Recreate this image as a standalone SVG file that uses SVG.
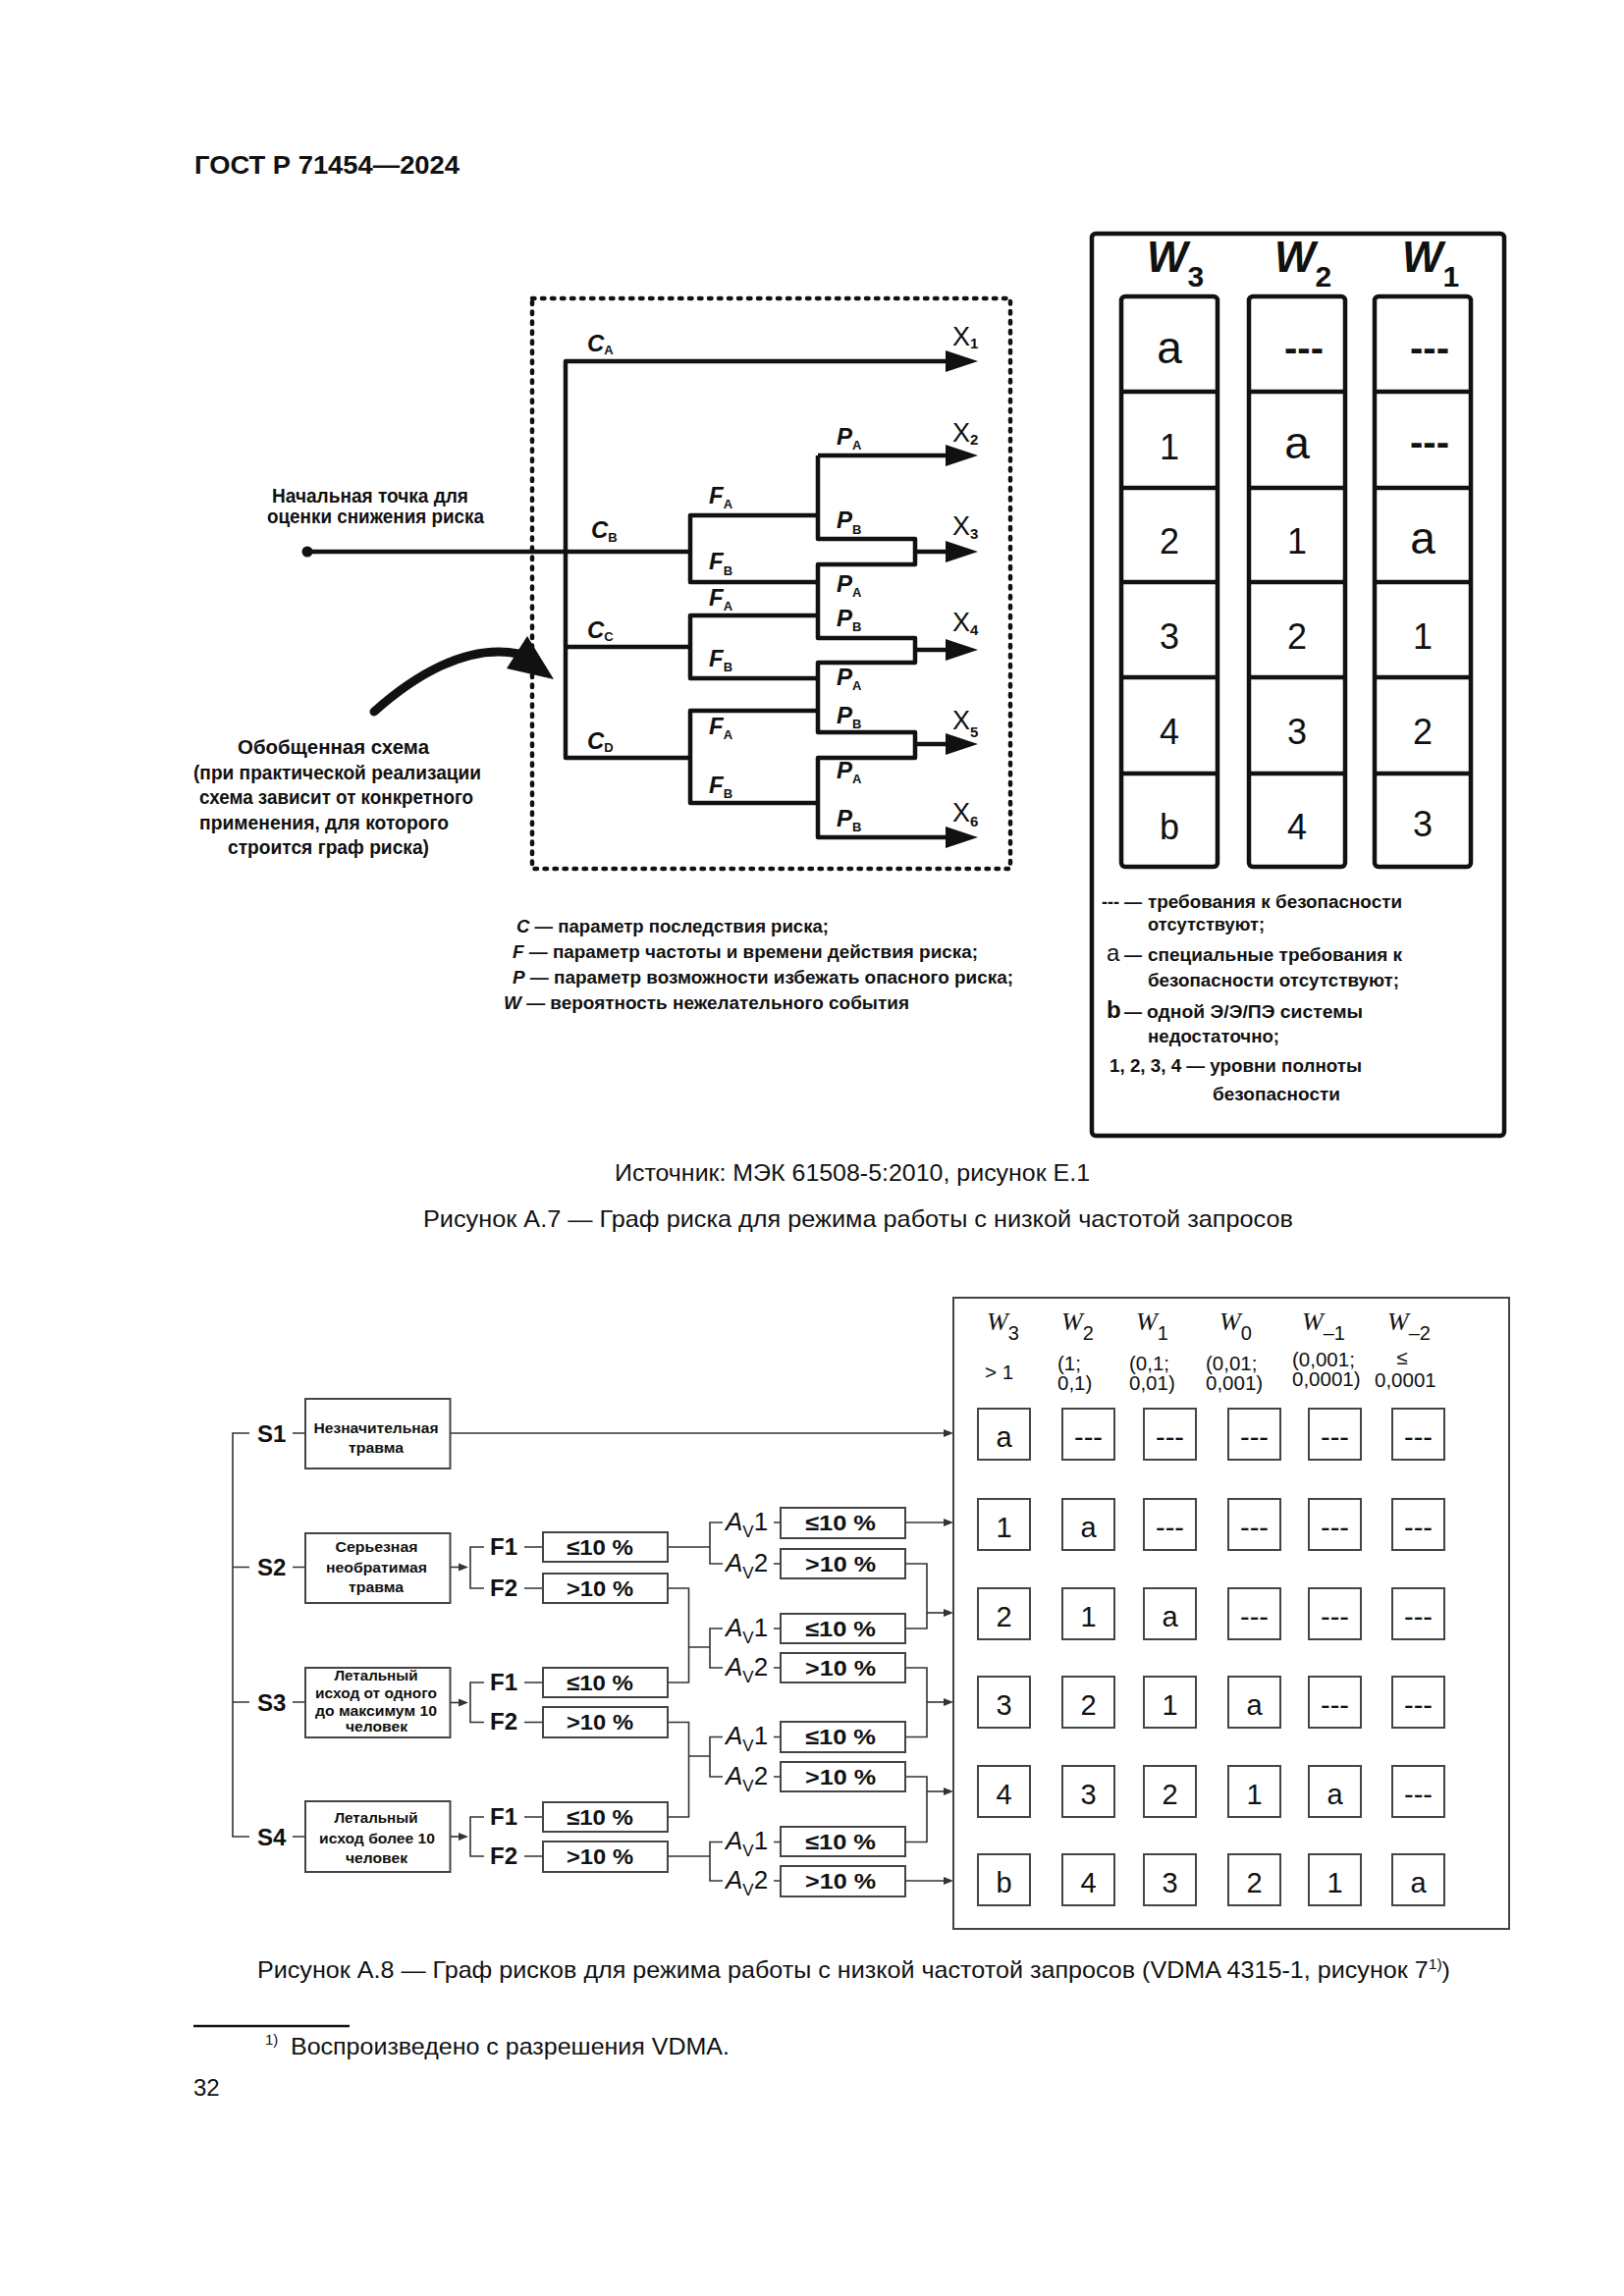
<svg xmlns="http://www.w3.org/2000/svg" width="1654" height="2339" viewBox="0 0 1654 2339">
<defs>
<style>
text { font-family: "Liberation Sans", Arial, sans-serif; fill:#111; }
.b { font-weight:bold; }
.lbl { font-weight:bold; font-style:italic; font-size:24px; }
.sub { font-style:normal; font-weight:bold; font-size:13px; }
.xl { font-size:27px; }
.xs { font-size:15px; font-weight:bold; }
.gr { fill:none; stroke:#111; stroke-width:4.5; stroke-linejoin:round; }
.dash { fill:none; stroke:#111; stroke-width:4.5; stroke-dasharray:2.5 7.5; stroke-linecap:round; }
.box { fill:none; stroke:#111; stroke-width:4.5; }
.cell { font-size:36px; text-anchor:middle; }
.ca { font-size:46px; text-anchor:middle; }
.cd { font-size:40px; font-weight:bold; text-anchor:middle; }
.wl { font-weight:bold; font-style:italic; font-size:44px; }
.ws { font-weight:bold; font-size:30px; font-style:normal; }
.leg { font-weight:bold; font-size:18px; }
.ln { fill:none; stroke:#333; stroke-width:1.6; }
.bx { fill:#fff; stroke:#444; stroke-width:2; }
.bt { font-weight:bold; font-size:15px; }
.pt { font-weight:bold; font-size:22px; }
.sl { font-weight:bold; font-size:24px; }
.c2 { font-size:29px; text-anchor:middle; }
.hw { font-family:"Liberation Serif", serif; font-style:italic; font-size:26px; }
.hs { font-size:20px; font-style:normal; font-family:"Liberation Sans", Arial, sans-serif; }
.hv { font-size:20.5px; }
.cap { font-size:24px; }
.av { font-size:26px; }
</style>
<marker id="ah" markerUnits="userSpaceOnUse" markerWidth="34" markerHeight="24" viewBox="0 0 34 24" refX="7" refY="12" orient="auto"><path d="M0 1 L33 12 L0 23 Z" fill="#111"/></marker>
<marker id="sa" markerUnits="userSpaceOnUse" markerWidth="10" markerHeight="9" viewBox="0 0 10 9" refX="2" refY="4.5" orient="auto"><path d="M0 0.5 L10 4.5 L0 8.5 Z" fill="#333"/></marker>
</defs>
<rect width="1654" height="2339" fill="#fff"/>

<text id="header" class="b" x="198" y="177" font-size="26" textLength="270" lengthAdjust="spacingAndGlyphs">ГОСТ Р 71454—2024</text>

<!-- Figure A.7 -->
<g id="generic-frame">
<rect class="dash" x="542" y="304" width="487" height="581"/>
</g>

<g id="connectors-a7">
<path class="gr" d="M703 772 H576 V368 H970" marker-end="url(#ah)"/>
<path class="gr" d="M313 562 H703"/>
<path class="gr" d="M576 659 H703"/>
<path class="gr" d="M833 525 H703 V593 H833"/>
<path class="gr" d="M833 627 H703 V691 H833"/>
<path class="gr" d="M833 724 H703 V818 H833"/>
<path class="gr" d="M833 464 H970" marker-end="url(#ah)"/>
<path class="gr" d="M833 464 V549 H932 V575 H833 V650 H932 V675 H833 V746 H932 V772 H833 V853 H970" marker-end="url(#ah)"/>
<path class="gr" d="M932 562 H970" marker-end="url(#ah)"/>
<path class="gr" d="M932 662 H970" marker-end="url(#ah)"/>
<path class="gr" d="M932 758 H970" marker-end="url(#ah)"/>
<circle cx="313" cy="562" r="5.5" fill="#111"/>
<path d="M381 725 C 420 690, 475 655, 528 666" fill="none" stroke="#111" stroke-width="9" stroke-linecap="round"/>
<polygon points="537,648 564,692 516,681" fill="#111"/>
</g>

<g id="c-labels">
<text class="lbl" x="598" y="358">C<tspan class="sub" dy="3">A</tspan></text>
<text class="lbl" x="602" y="548">C<tspan class="sub" dy="4">B</tspan></text>
<text class="lbl" x="598" y="650">C<tspan class="sub" dy="3">C</tspan></text>
<text class="lbl" x="598" y="763">C<tspan class="sub" dy="3">D</tspan></text>
</g>
<g id="f-labels">
<text class="lbl" x="722" y="513">F<tspan class="sub" dy="5">A</tspan></text>
<text class="lbl" x="722" y="580">F<tspan class="sub" dy="6">B</tspan></text>
<text class="lbl" x="722" y="617">F<tspan class="sub" dy="5">A</tspan></text>
<text class="lbl" x="722" y="679">F<tspan class="sub" dy="5">B</tspan></text>
<text class="lbl" x="722" y="748">F<tspan class="sub" dy="5">A</tspan></text>
<text class="lbl" x="722" y="808">F<tspan class="sub" dy="5">B</tspan></text>
</g>
<g id="p-labels">
<text class="lbl" x="852" y="453">P<tspan class="sub" dy="5">A</tspan></text>
<text class="lbl" x="852" y="538">P<tspan class="sub" dy="6">B</tspan></text>
<text class="lbl" x="852" y="603">P<tspan class="sub" dy="5">A</tspan></text>
<text class="lbl" x="852" y="638">P<tspan class="sub" dy="5">B</tspan></text>
<text class="lbl" x="852" y="698">P<tspan class="sub" dy="5">A</tspan></text>
<text class="lbl" x="852" y="737">P<tspan class="sub" dy="5">B</tspan></text>
<text class="lbl" x="852" y="793">P<tspan class="sub" dy="5">A</tspan></text>
<text class="lbl" x="852" y="842">P<tspan class="sub" dy="5">B</tspan></text>
</g>
<g id="x-labels">
<text class="xl" x="970" y="352">X<tspan class="xs" dy="3">1</tspan></text>
<text class="xl" x="970" y="450">X<tspan class="xs" dy="3">2</tspan></text>
<text class="xl" x="970" y="545">X<tspan class="xs" dy="4">3</tspan></text>
<text class="xl" x="970" y="643">X<tspan class="xs" dy="4">4</tspan></text>
<text class="xl" x="970" y="743">X<tspan class="xs" dy="8">5</tspan></text>
<text class="xl" x="970" y="837">X<tspan class="xs" dy="5">6</tspan></text>
</g>

<g id="start-note">
<text class="b" x="277" y="512" font-size="20" textLength="200" lengthAdjust="spacingAndGlyphs">Начальная точка для</text>
<text class="b" x="272" y="533" font-size="20" textLength="221" lengthAdjust="spacingAndGlyphs">оценки снижения риска</text>
</g>
<g id="generic-note">
<text class="b" x="242" y="768" font-size="20" textLength="195" lengthAdjust="spacingAndGlyphs">Обобщенная схема</text>
<text class="b" x="197" y="794" font-size="20" textLength="293" lengthAdjust="spacingAndGlyphs">(при практической реализации</text>
<text class="b" x="203" y="819" font-size="20" textLength="279" lengthAdjust="spacingAndGlyphs">схема зависит от конкретного</text>
<text class="b" x="203" y="845" font-size="20" textLength="254" lengthAdjust="spacingAndGlyphs">применения,  для которого</text>
<text class="b" x="232" y="870" font-size="20" textLength="205" lengthAdjust="spacingAndGlyphs">строится граф риска)</text>
</g>
<g id="param-legend">
<text class="b" x="526" y="950" font-size="18" textLength="318" lengthAdjust="spacingAndGlyphs"><tspan font-style="italic">C</tspan> — параметр последствия риска;</text>
<text class="b" x="522" y="976" font-size="18" textLength="474" lengthAdjust="spacingAndGlyphs"><tspan font-style="italic">F</tspan> — параметр частоты и времени действия риска;</text>
<text class="b" x="522" y="1002" font-size="18" textLength="510" lengthAdjust="spacingAndGlyphs"><tspan font-style="italic">P</tspan> — параметр возможности избежать опасного риска;</text>
<text class="b" x="513" y="1028" font-size="18" textLength="413" lengthAdjust="spacingAndGlyphs"><tspan font-style="italic">W</tspan> — вероятность нежелательного события</text>
</g>

<g id="w-table">
<rect class="box" x="1112" y="238" width="420" height="919" rx="4"/>
<text class="wl" x="1168" y="277">W<tspan class="ws" dy="15">3</tspan></text>
<text class="wl" x="1298" y="277">W<tspan class="ws" dy="15">2</tspan></text>
<text class="wl" x="1428" y="277">W<tspan class="ws" dy="15">1</tspan></text>
<g id="col-w3">
<rect class="box" x="1142" y="302" width="98" height="581" rx="4"/>
<path class="gr" d="M1142 399 H1240 M1142 497 H1240 M1142 593 H1240 M1142 690 H1240 M1142 788 H1240"/>
<text class="ca" x="1191" y="370">a</text>
<text class="cell" x="1191" y="468">1</text>
<text class="cell" x="1191" y="564">2</text>
<text class="cell" x="1191" y="661">3</text>
<text class="cell" x="1191" y="758">4</text>
<text class="cell" x="1191" y="855" font-size="40">b</text>
</g>
<g id="col-w2">
<rect class="box" x="1272" y="302" width="98" height="581" rx="4"/>
<path class="gr" d="M1272 399 H1370 M1272 497 H1370 M1272 593 H1370 M1272 690 H1370 M1272 788 H1370"/>
<text class="cd" x="1328" y="368">---</text>
<text class="ca" x="1321" y="467">a</text>
<text class="cell" x="1321" y="564">1</text>
<text class="cell" x="1321" y="661">2</text>
<text class="cell" x="1321" y="758">3</text>
<text class="cell" x="1321" y="855">4</text>
</g>
<g id="col-w1">
<rect class="box" x="1400" y="302" width="98" height="581" rx="4"/>
<path class="gr" d="M1400 399 H1498 M1400 497 H1498 M1400 593 H1498 M1400 690 H1498 M1400 788 H1498"/>
<text class="cd" x="1456" y="368">---</text>
<text class="cd" x="1456" y="464">---</text>
<text class="ca" x="1449" y="564">a</text>
<text class="cell" x="1449" y="661">1</text>
<text class="cell" x="1449" y="758">2</text>
<text class="cell" x="1449" y="852">3</text>
</g>
<g id="w-legend">
<text class="b" x="1122" y="925" font-size="18">---</text>
<text class="b" x="1145" y="925" font-size="18">—</text>
<text class="leg" x="1169" y="925" textLength="259" lengthAdjust="spacingAndGlyphs">требования к безопасности</text>
<text class="leg" x="1169" y="948" textLength="119" lengthAdjust="spacingAndGlyphs">отсутствуют;</text>
<text x="1127" y="979" font-size="24">a</text>
<text class="b" x="1145" y="979" font-size="18">—</text>
<text class="leg" x="1169" y="979" textLength="259" lengthAdjust="spacingAndGlyphs">специальные требования к</text>
<text class="leg" x="1169" y="1005" textLength="256" lengthAdjust="spacingAndGlyphs">безопасности отсутствуют;</text>
<text class="b" x="1127" y="1037" font-size="24">b</text>
<text class="b" x="1145" y="1037" font-size="18">—</text>
<text class="leg" x="1168" y="1037" textLength="220" lengthAdjust="spacingAndGlyphs">одной Э/Э/ПЭ системы</text>
<text class="leg" x="1169" y="1062" textLength="134" lengthAdjust="spacingAndGlyphs">недостаточно;</text>
<text class="leg" x="1130" y="1092" textLength="257" lengthAdjust="spacingAndGlyphs">1, 2, 3, 4 — уровни полноты</text>
<text class="leg" x="1235" y="1121" textLength="130" lengthAdjust="spacingAndGlyphs">безопасности</text>
</g>
</g>

<g id="captions-a7">
<text class="cap" x="626" y="1203" textLength="484" lengthAdjust="spacingAndGlyphs">Источник: МЭК 61508-5:2010, рисунок Е.1</text>
<text class="cap" x="431" y="1250" textLength="886" lengthAdjust="spacingAndGlyphs">Рисунок А.7 — Граф риска для режима работы с низкой частотой запросов</text>
</g>

<!-- Figure A.8 -->
<g id="connectors-a8">
<path class="ln" d="M254 1460 H237 V1871 H254 M237 1596.5 H254 M237 1734 H254"/>
<path class="ln" d="M298 1460 H311 M298 1596.5 H311 M298 1734 H311 M298 1871 H311"/>
<path class="ln" d="M458.5 1460 H963" marker-end="url(#sa)"/>
<path class="ln" d="M458.5 1596.5 H469" marker-end="url(#sa)"/>
<path class="ln" d="M458.5 1734.5 H469" marker-end="url(#sa)"/>
<path class="ln" d="M458.5 1871 H469" marker-end="url(#sa)"/>
<path class="ln" d="M493 1576 H479 V1618 H493 M493 1714 H479 V1754.5 H493 M493 1851 H479 V1891 H493"/>
<path class="ln" d="M534 1576 H553 M534 1618 H553 M534 1714 H553 M534 1754.5 H553 M534 1851 H553 M534 1891 H553"/>
<path class="ln" d="M680 1576 H723"/>
<path class="ln" d="M680 1618 H701.5 V1714 H680 M701.5 1678 H723"/>
<path class="ln" d="M680 1754.5 H701.5 V1851 H680 M701.5 1789 H723"/>
<path class="ln" d="M680 1891 H723"/>
<path class="ln" d="M736 1551 H723 V1593 H736 M736 1659 H723 V1699 H736 M736 1769.5 H723 V1810 H736 M736 1876.5 H723 V1916 H736"/>
<path class="ln" d="M788 1551 H795 M788 1593 H795 M788 1659 H795 M788 1699 H795 M788 1769.5 H795 M788 1810 H795 M788 1876.5 H795 M788 1916 H795"/>
<path class="ln" d="M922 1551 H963" marker-end="url(#sa)"/>
<path class="ln" d="M922 1593 H944 V1659 H922"/>
<path class="ln" d="M944 1643 H963" marker-end="url(#sa)"/>
<path class="ln" d="M922 1699 H944 V1769.5 H922"/>
<path class="ln" d="M944 1734 H963" marker-end="url(#sa)"/>
<path class="ln" d="M922 1810 H944 V1876.5 H922"/>
<path class="ln" d="M944 1825 H963" marker-end="url(#sa)"/>
<path class="ln" d="M922 1916 H963" marker-end="url(#sa)"/>
</g>

<g id="s-labels">
<text class="sl" x="262" y="1469">S1</text>
<text class="sl" x="262" y="1605">S2</text>
<text class="sl" x="262" y="1743">S3</text>
<text class="sl" x="262" y="1880">S4</text>
</g>
<g id="s1-box">
<rect class="bx" x="311" y="1425" width="147.5" height="71"/>
<text class="bt" x="319.5" y="1460" textLength="127" lengthAdjust="spacingAndGlyphs">Незначительная</text>
<text class="bt" x="355" y="1480" textLength="56" lengthAdjust="spacingAndGlyphs">травма</text>
</g>
<g id="s2-box">
<rect class="bx" x="311" y="1562" width="147.5" height="71"/>
<text class="bt" x="341.5" y="1581" textLength="84" lengthAdjust="spacingAndGlyphs">Серьезная</text>
<text class="bt" x="332" y="1602" textLength="103" lengthAdjust="spacingAndGlyphs">необратимая</text>
<text class="bt" x="355" y="1622" textLength="56" lengthAdjust="spacingAndGlyphs">травма</text>
</g>
<g id="s3-box">
<rect class="bx" x="311" y="1699" width="147.5" height="71"/>
<text class="bt" x="340.5" y="1712" textLength="85" lengthAdjust="spacingAndGlyphs">Летальный</text>
<text class="bt" x="321" y="1730" textLength="124" lengthAdjust="spacingAndGlyphs">исход от одного</text>
<text class="bt" x="321" y="1748" textLength="124" lengthAdjust="spacingAndGlyphs">до максимум 10</text>
<text class="bt" x="352" y="1764" textLength="63" lengthAdjust="spacingAndGlyphs">человек</text>
</g>
<g id="s4-box">
<rect class="bx" x="311" y="1835" width="147.5" height="72"/>
<text class="bt" x="340.5" y="1857" textLength="85" lengthAdjust="spacingAndGlyphs">Летальный</text>
<text class="bt" x="325" y="1878" textLength="118" lengthAdjust="spacingAndGlyphs">исход более 10</text>
<text class="bt" x="352" y="1898" textLength="63" lengthAdjust="spacingAndGlyphs">человек</text>
</g>

<g id="f-nodes">
<text class="sl" x="499" y="1584" font-size="23">F1</text>
<text class="sl" x="499" y="1626" font-size="23">F2</text>
<text class="sl" x="499" y="1722" font-size="23">F1</text>
<text class="sl" x="499" y="1762" font-size="23">F2</text>
<text class="sl" x="499" y="1859" font-size="23">F1</text>
<text class="sl" x="499" y="1899" font-size="23">F2</text>
<rect class="bx" x="553" y="1561" width="127" height="30"/>
<text class="pt" x="577" y="1584" textLength="68" lengthAdjust="spacingAndGlyphs">≤10 %</text>
<rect class="bx" x="553" y="1603" width="127" height="30"/>
<text class="pt" x="577" y="1626" textLength="68" lengthAdjust="spacingAndGlyphs">&gt;10 %</text>
<rect class="bx" x="553" y="1699" width="127" height="30"/>
<text class="pt" x="577" y="1722" textLength="68" lengthAdjust="spacingAndGlyphs">≤10 %</text>
<rect class="bx" x="553" y="1739" width="127" height="31"/>
<text class="pt" x="577" y="1762" textLength="68" lengthAdjust="spacingAndGlyphs">&gt;10 %</text>
<rect class="bx" x="553" y="1836" width="127" height="30"/>
<text class="pt" x="577" y="1859" textLength="68" lengthAdjust="spacingAndGlyphs">≤10 %</text>
<rect class="bx" x="553" y="1876" width="127" height="31"/>
<text class="pt" x="577" y="1899" textLength="68" lengthAdjust="spacingAndGlyphs">&gt;10 %</text>
</g>

<g id="av-nodes">
<text class="av" x="739" y="1559"><tspan font-style="italic">A</tspan><tspan font-size="17" dy="7">V</tspan><tspan dy="-7">1</tspan></text>
<text class="av" x="739" y="1601"><tspan font-style="italic">A</tspan><tspan font-size="17" dy="7">V</tspan><tspan dy="-7">2</tspan></text>
<text class="av" x="739" y="1667"><tspan font-style="italic">A</tspan><tspan font-size="17" dy="7">V</tspan><tspan dy="-7">1</tspan></text>
<text class="av" x="739" y="1707"><tspan font-style="italic">A</tspan><tspan font-size="17" dy="7">V</tspan><tspan dy="-7">2</tspan></text>
<text class="av" x="739" y="1777"><tspan font-style="italic">A</tspan><tspan font-size="17" dy="7">V</tspan><tspan dy="-7">1</tspan></text>
<text class="av" x="739" y="1818"><tspan font-style="italic">A</tspan><tspan font-size="17" dy="7">V</tspan><tspan dy="-7">2</tspan></text>
<text class="av" x="739" y="1884"><tspan font-style="italic">A</tspan><tspan font-size="17" dy="7">V</tspan><tspan dy="-7">1</tspan></text>
<text class="av" x="739" y="1924"><tspan font-style="italic">A</tspan><tspan font-size="17" dy="7">V</tspan><tspan dy="-7">2</tspan></text>
<rect class="bx" x="795" y="1536" width="127" height="31"/>
<text class="pt" x="820" y="1559" textLength="72" lengthAdjust="spacingAndGlyphs">≤10 %</text>
<rect class="bx" x="795" y="1578" width="127" height="30"/>
<text class="pt" x="820" y="1601" textLength="72" lengthAdjust="spacingAndGlyphs">&gt;10 %</text>
<rect class="bx" x="795" y="1644" width="127" height="30"/>
<text class="pt" x="820" y="1667" textLength="72" lengthAdjust="spacingAndGlyphs">≤10 %</text>
<rect class="bx" x="795" y="1684" width="127" height="30"/>
<text class="pt" x="820" y="1707" textLength="72" lengthAdjust="spacingAndGlyphs">&gt;10 %</text>
<rect class="bx" x="795" y="1754" width="127" height="31"/>
<text class="pt" x="820" y="1777" textLength="72" lengthAdjust="spacingAndGlyphs">≤10 %</text>
<rect class="bx" x="795" y="1795" width="127" height="30"/>
<text class="pt" x="820" y="1818" textLength="72" lengthAdjust="spacingAndGlyphs">&gt;10 %</text>
<rect class="bx" x="795" y="1861" width="127" height="30"/>
<text class="pt" x="820" y="1884" textLength="72" lengthAdjust="spacingAndGlyphs">≤10 %</text>
<rect class="bx" x="795" y="1901" width="127" height="31"/>
<text class="pt" x="820" y="1924" textLength="72" lengthAdjust="spacingAndGlyphs">&gt;10 %</text>
</g>

<g id="sil-table">
<rect x="971" y="1322" width="566" height="643" fill="none" stroke="#444" stroke-width="2"/>
<text class="hw" x="1005" y="1355">W<tspan class="hs" dy="10">3</tspan></text>
<text class="hw" x="1081" y="1355">W<tspan class="hs" dy="10">2</tspan></text>
<text class="hw" x="1157" y="1355">W<tspan class="hs" dy="10">1</tspan></text>
<text class="hw" x="1242" y="1355">W<tspan class="hs" dy="10">0</tspan></text>
<text class="hw" x="1326" y="1355">W<tspan class="hs" dy="10">–1</tspan></text>
<text class="hw" x="1413" y="1355">W<tspan class="hs" dy="10">–2</tspan></text>
<text class="hv" x="1003" y="1405">&gt; 1</text>
<text class="hv" x="1077" y="1396">(1;</text>
<text class="hv" x="1077" y="1416">0,1)</text>
<text class="hv" x="1150" y="1396">(0,1;</text>
<text class="hv" x="1150" y="1416">0,01)</text>
<text class="hv" x="1228" y="1396">(0,01;</text>
<text class="hv" x="1228" y="1416">0,001)</text>
<text class="hv" x="1316" y="1392">(0,001;</text>
<text class="hv" x="1316" y="1412">0,0001)</text>
<text class="hv" x="1428" y="1390" text-anchor="middle">≤</text>
<text class="hv" x="1400" y="1413">0,0001</text>
<g fill="none" stroke="#444" stroke-width="2">
<rect x="996" y="1435" width="53" height="52"/><rect x="1082" y="1435" width="53" height="52"/><rect x="1165" y="1435" width="53" height="52"/><rect x="1251" y="1435" width="53" height="52"/><rect x="1333" y="1435" width="53" height="52"/><rect x="1418" y="1435" width="53" height="52"/>
<rect x="996" y="1527" width="53" height="52"/><rect x="1082" y="1527" width="53" height="52"/><rect x="1165" y="1527" width="53" height="52"/><rect x="1251" y="1527" width="53" height="52"/><rect x="1333" y="1527" width="53" height="52"/><rect x="1418" y="1527" width="53" height="52"/>
<rect x="996" y="1618" width="53" height="52"/><rect x="1082" y="1618" width="53" height="52"/><rect x="1165" y="1618" width="53" height="52"/><rect x="1251" y="1618" width="53" height="52"/><rect x="1333" y="1618" width="53" height="52"/><rect x="1418" y="1618" width="53" height="52"/>
<rect x="996" y="1708" width="53" height="52"/><rect x="1082" y="1708" width="53" height="52"/><rect x="1165" y="1708" width="53" height="52"/><rect x="1251" y="1708" width="53" height="52"/><rect x="1333" y="1708" width="53" height="52"/><rect x="1418" y="1708" width="53" height="52"/>
<rect x="996" y="1799" width="53" height="52"/><rect x="1082" y="1799" width="53" height="52"/><rect x="1165" y="1799" width="53" height="52"/><rect x="1251" y="1799" width="53" height="52"/><rect x="1333" y="1799" width="53" height="52"/><rect x="1418" y="1799" width="53" height="52"/>
<rect x="996" y="1889" width="53" height="52"/><rect x="1082" y="1889" width="53" height="52"/><rect x="1165" y="1889" width="53" height="52"/><rect x="1251" y="1889" width="53" height="52"/><rect x="1333" y="1889" width="53" height="52"/><rect x="1418" y="1889" width="53" height="52"/>
</g>
<g>
<text class="c2" x="1022.5" y="1474">a</text><text class="c2" x="1108.5" y="1474">---</text><text class="c2" x="1191.5" y="1474">---</text><text class="c2" x="1277.5" y="1474">---</text><text class="c2" x="1359.5" y="1474">---</text><text class="c2" x="1444.5" y="1474">---</text>
<text class="c2" x="1022.5" y="1566">1</text><text class="c2" x="1108.5" y="1566">a</text><text class="c2" x="1191.5" y="1566">---</text><text class="c2" x="1277.5" y="1566">---</text><text class="c2" x="1359.5" y="1566">---</text><text class="c2" x="1444.5" y="1566">---</text>
<text class="c2" x="1022.5" y="1657">2</text><text class="c2" x="1108.5" y="1657">1</text><text class="c2" x="1191.5" y="1657">a</text><text class="c2" x="1277.5" y="1657">---</text><text class="c2" x="1359.5" y="1657">---</text><text class="c2" x="1444.5" y="1657">---</text>
<text class="c2" x="1022.5" y="1747">3</text><text class="c2" x="1108.5" y="1747">2</text><text class="c2" x="1191.5" y="1747">1</text><text class="c2" x="1277.5" y="1747">a</text><text class="c2" x="1359.5" y="1747">---</text><text class="c2" x="1444.5" y="1747">---</text>
<text class="c2" x="1022.5" y="1838">4</text><text class="c2" x="1108.5" y="1838">3</text><text class="c2" x="1191.5" y="1838">2</text><text class="c2" x="1277.5" y="1838">1</text><text class="c2" x="1359.5" y="1838">a</text><text class="c2" x="1444.5" y="1838">---</text>
<text class="c2" x="1022.5" y="1928">b</text><text class="c2" x="1108.5" y="1928">4</text><text class="c2" x="1191.5" y="1928">3</text><text class="c2" x="1277.5" y="1928">2</text><text class="c2" x="1359.5" y="1928">1</text><text class="c2" x="1444.5" y="1928">a</text>
</g>
</g>

<g id="captions-a8">
<text class="cap" x="262" y="2015" textLength="1215" lengthAdjust="spacingAndGlyphs">Рисунок А.8 — Граф рисков для режима работы с низкой частотой запросов (VDMA 4315-1, рисунок 7<tspan font-size="15" dy="-9">1)</tspan><tspan dy="9">)</tspan></text>
<path d="M197 2064 H356" stroke="#111" stroke-width="2.5"/>
<text x="270" y="2083" font-size="15">1)</text>
<text class="cap" x="296" y="2093" textLength="447" lengthAdjust="spacingAndGlyphs">Воспроизведено с разрешения VDMA.</text>
<text class="cap" x="197" y="2135">32</text>
</g>
</svg>
